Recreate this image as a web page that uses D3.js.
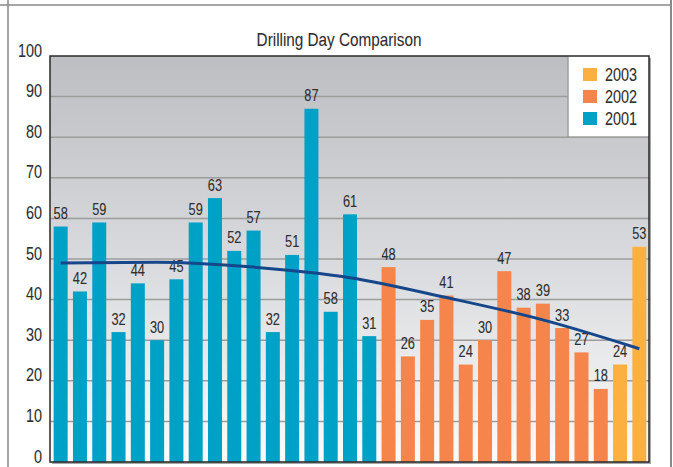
<!DOCTYPE html>
<html><head><meta charset="utf-8">
<script src="https://cdn.jsdelivr.net/npm/d3@7"></script>
<style>
body{margin:0;background:#fff;}
svg{display:block;}
text{font-family:"Liberation Sans",Arial,sans-serif;fill:#2e2e2e;stroke:#2e2e2e;stroke-width:0.1px;}
</style>
</head><body>
<svg id="chart" width="673" height="467"></svg>
<script>
// ---- data ----
const chartTitle = "Drilling Day Comparison";
const legendYears = ["2003", "2002", "2001"];
const yearColors = {"2001": "#00a1c7", "2002": "#f5854a", "2003": "#fbb040"};
const barCategories = ["1","2","3","4","5","6","7","8","9","10","11","12","13","14","15","16","17","18","19","20","21","22","23","24","25","26","27","28","29","30","31"];
const barYears = ["2001","2001","2001","2001","2001","2001","2001","2001","2001","2001","2001","2001","2001","2001","2001","2001","2001",
                  "2002","2002","2002","2002","2002","2002","2002","2002","2002","2002","2002","2002",
                  "2003","2003"];
const barValues = [58,42,59,32,44,30,45,59,65,52,57,32,51,87,37,61,31, 48,26,35,41,24,30,47,38,39,33,27,18, 24,53];
const barLabels = ["58","42","59","32","44","30","45","59","63","52","57","32","51","87","58","61","31",
                   "48","26","35","41","24","30","47","38","39","33","27","18","24","53"];
const trendCategories = ["1","6","11","16","21","26","31"];
const trendValues = [49.0, 49.2, 48.0, 45.4, 40.5, 35.0, 27.9];
const yTicks = [0,10,20,30,40,50,60,70,80,90,100];

// ---- layout ----
const svg = d3.select("#chart");
const plot = {left: 50, right: 649, top: 56, bottom: 462};
const pos = (px, py, k = 0.8) => `translate(${px},${py}) scale(${k},1)`;

const x = d3.scaleBand().domain(barCategories).range([plot.left, plot.right + 1])
  .paddingInner(0.274).paddingOuter(0.19);
const y = d3.scaleLinear().domain([0, 100]).range([plot.bottom, plot.top]);

// outer frame
svg.append("line").attr("x1", 0).attr("x2", 671).attr("y1", 5).attr("y2", 5)
  .attr("stroke", "#8a8a8a").attr("stroke-width", 1.5);
svg.append("line").attr("x1", 8).attr("x2", 8).attr("y1", 0).attr("y2", 467)
  .attr("stroke", "#8a8a8a").attr("stroke-width", 1.5);
svg.append("line").attr("x1", 671).attr("x2", 671).attr("y1", 0).attr("y2", 467)
  .attr("stroke", "#8a8a8a").attr("stroke-width", 2);

// title
svg.append("text").attr("transform", pos(339, 46, 0.85)).attr("text-anchor", "middle")
  .attr("font-size", 18).text(chartTitle);

// background gradient
const defs = svg.append("defs");
const grad = defs.append("linearGradient").attr("id", "bg").attr("x1", 0).attr("x2", 0).attr("y1", 0).attr("y2", 1);
grad.append("stop").attr("offset", "0%").attr("stop-color", "#bdbec2");
grad.append("stop").attr("offset", "55%").attr("stop-color", "#dcdde0");
grad.append("stop").attr("offset", "100%").attr("stop-color", "#fbfbfb");

// shadow
svg.append("rect").attr("x", plot.left + 2).attr("y", plot.top + 2)
  .attr("width", plot.right - plot.left).attr("height", plot.bottom - plot.top)
  .attr("fill", "#a8a8a8");
svg.append("rect").attr("x", plot.left).attr("y", plot.top)
  .attr("width", plot.right - plot.left).attr("height", plot.bottom - plot.top)
  .attr("fill", "url(#bg)");

// gridlines
svg.append("g").selectAll("line").data(yTicks.filter(d => d > 0 && d < 100)).join("line")
  .attr("x1", plot.left).attr("x2", plot.right)
  .attr("y1", d => y(d)).attr("y2", d => y(d))
  .attr("stroke", "#9c9c9c").attr("stroke-width", 1.5);

// legend box
const lg = {x: 568, y: plot.top, w: plot.right - 568, h: 81};
svg.append("rect").attr("x", lg.x).attr("y", lg.y).attr("width", lg.w).attr("height", lg.h).attr("fill", "#fff");
svg.append("path").attr("d", `M${lg.x},${lg.y}V${lg.y + lg.h}H${lg.x + lg.w}`)
  .attr("fill", "none").attr("stroke", "#a0a0a0").attr("stroke-width", 1.5);
const lgItems = svg.append("g").selectAll("g").data(legendYears).join("g")
  .attr("transform", (d, i) => `translate(583,${68 + i * 22})`);
lgItems.append("rect").attr("width", 14).attr("height", 13).attr("fill", d => yearColors[d]);
lgItems.append("text").attr("transform", pos(22, 12.8)).attr("font-size", 18).text(d => d);

// bars
svg.append("g").selectAll("rect").data(barValues).join("rect")
  .attr("x", (d, i) => x(barCategories[i]))
  .attr("width", x.bandwidth())
  .attr("y", d => y(d))
  .attr("height", d => y(0) - y(d))
  .attr("fill", (d, i) => yearColors[barYears[i]]);

// bar labels
svg.append("g").selectAll("text").data(barValues).join("text")
  .attr("transform", (d, i) => pos(x(barCategories[i]) + x.bandwidth() / 2, y(d) - 7.5))
  .attr("text-anchor", "middle").attr("font-size", 16)
  .text((d, i) => barLabels[i]);

// trend line
const line = d3.line()
  .x((d, i) => x(trendCategories[i]) + x.bandwidth() / 2)
  .y(d => y(d))
  .curve(d3.curveMonotoneX);
svg.append("path").datum(trendValues).attr("d", line)
  .attr("fill", "none").attr("stroke", "#16478a").attr("stroke-width", 3);

// plot border
svg.append("rect").attr("x", plot.left).attr("y", plot.top)
  .attr("width", plot.right - plot.left).attr("height", plot.bottom - plot.top)
  .attr("fill", "none").attr("stroke", "#2a2a2a").attr("stroke-width", 1.5);

// y axis labels
svg.append("g").selectAll("text").data(yTicks).join("text")
  .attr("transform", d => pos(42, y(d) + 0.5))
  .attr("text-anchor", "end").attr("font-size", 18)
  .text(d => d);
</script>
</body></html>
